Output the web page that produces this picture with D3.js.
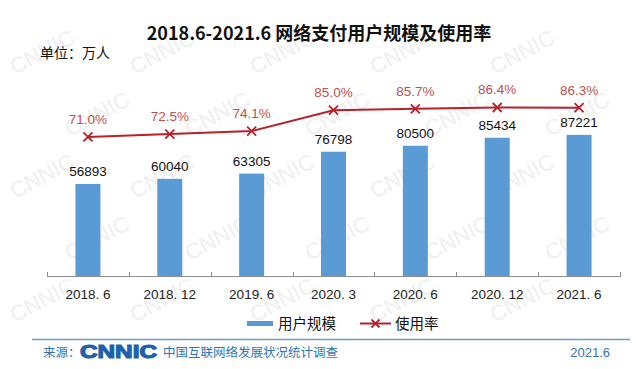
<!DOCTYPE html>
<html>
<head>
<meta charset="utf-8">
<script src="https://cdn.jsdelivr.net/npm/d3@7"></script>
<style>
  html, body { margin: 0; padding: 0; background: #fff; }
  svg { display: block; font-family: "Liberation Sans", Arial, "Noto Sans CJK SC", sans-serif; }
</style>
</head>
<body>
<div id="chart"></div>
<script>
// data
const categories = ["2018. 6", "2018. 12", "2019. 6", "2020. 3", "2020. 6", "2020. 12", "2021. 6"];
const users = [56893, 60040, 63305, 76798, 80500, 85434, 87221];
const rates = [71.0, 72.5, 74.1, 85.0, 85.7, 86.4, 86.3];

// dimensions
const WIDTH = 640;
const HEIGHT = 369;
const LEFT = 47;
const RIGHT = 620;
const BASE = 276;
const BAR_W = 25;
const CJK = '"Noto Sans CJK SC", "Liberation Sans", sans-serif';
const BLUE = "#5b9bd5";
const RED = "#b8202a";

const $svg = d3.select("#chart").append("svg")
  .attr("width", WIDTH)
  .attr("height", HEIGHT);

// faint watermark, kept inside the frame
const $wm = $svg.append("g").attr("class", "g-watermark");
d3.range(0, 5).forEach(r => {
  d3.range(0, 5).forEach(c => {
    const px = 15 + c * 120 + (r % 2) * 55;
    const py = 75 + r * 62;
    if (px > 560) return;
    $wm.append("text")
      .attr("transform", `translate(${px}, ${py}) rotate(-28)`)
      .attr("font-size", 22)
      .attr("font-family", "Liberation Sans, Arial, sans-serif")
      .attr("fill", "#efefef")
      .text("CNNIC");
  });
});

// scales
const x = d3.scaleBand().domain(categories).range([LEFT, RIGHT]);
const y = d3.scaleLinear().domain([0, 100000]).range([BASE, BASE - 100000 / 618]);
const yRate = d3.scaleLinear().domain([70, 90]).range([138.9, 100.6]);
const cx = d => x(d) + x.bandwidth() / 2;

// title
$svg.append("text")
  .attr("x", 319).attr("y", 40)
  .attr("text-anchor", "middle")
  .attr("font-family", CJK)
  .attr("font-weight", "bold")
  .attr("font-size", 18)
  .attr("fill", "#111")
  .text("2018.6-2021.6 网络支付用户规模及使用率");

$svg.append("text")
  .attr("x", 40).attr("y", 58)
  .attr("font-family", CJK)
  .attr("font-size", 14)
  .attr("fill", "#111")
  .text("单位：万人");

// bars
const $vis = $svg.append("g").attr("class", "g-vis");
$vis.selectAll("rect.bar")
  .data(users)
  .join("rect")
  .attr("class", "bar")
  .attr("x", (d, i) => cx(categories[i]) - BAR_W / 2)
  .attr("y", d => y(d))
  .attr("width", BAR_W)
  .attr("height", d => y(0) - y(d))
  .attr("fill", BLUE);

$vis.selectAll("text.val")
  .data(users)
  .join("text")
  .attr("class", "val")
  .attr("x", (d, i) => cx(categories[i]))
  .attr("y", d => y(d) - 8)
  .attr("text-anchor", "middle")
  .attr("font-size", 13.5)
  .attr("fill", "#111")
  .text(d => d);

// axis
const $axis = $svg.append("g").attr("class", "g-axis");
$axis.append("line")
  .attr("x1", LEFT).attr("x2", RIGHT)
  .attr("y1", BASE + 0.5).attr("y2", BASE + 0.5)
  .attr("stroke", "#8c8c8c");
$axis.selectAll("line.tick")
  .data(categories.map(d => x(d)).concat([RIGHT]))
  .join("line")
  .attr("class", "tick")
  .attr("x1", d => Math.round(d) + 0.5).attr("x2", d => Math.round(d) + 0.5)
  .attr("y1", BASE - 4).attr("y2", BASE + 1)
  .attr("stroke", "#8c8c8c");
$axis.selectAll("text.cat")
  .data(categories)
  .join("text")
  .attr("class", "cat")
  .attr("x", d => cx(d))
  .attr("y", BASE + 23)
  .attr("text-anchor", "middle")
  .attr("font-size", 13.5)
  .attr("fill", "#222")
  .text(d => d);

// rate line
const line = d3.line()
  .x((d, i) => cx(categories[i]))
  .y(d => yRate(d));

$vis.append("path")
  .datum(rates)
  .attr("d", line)
  .attr("fill", "none")
  .attr("stroke", RED)
  .attr("stroke-width", 2);

const cross = (g, s) => {
  g.append("path")
    .attr("d", `M${-s},${-s}L${s},${s}M${-s},${s}L${s},${-s}`)
    .attr("stroke", RED)
    .attr("stroke-width", 1.8)
    .attr("fill", "none");
};

$vis.selectAll("g.pt")
  .data(rates)
  .join("g")
  .attr("class", "pt")
  .attr("transform", (d, i) => `translate(${cx(categories[i])}, ${yRate(d)})`)
  .each(function () { cross(d3.select(this), 4.5); });

$vis.selectAll("text.rate")
  .data(rates)
  .join("text")
  .attr("class", "rate")
  .attr("x", (d, i) => cx(categories[i]))
  .attr("y", d => yRate(d) - 13)
  .attr("text-anchor", "middle")
  .attr("font-size", 13.5)
  .attr("fill", "#c0504d")
  .text(d => `${d.toFixed(1)}%`);

// legend
const $legend = $svg.append("g").attr("class", "g-legend");
$legend.append("rect")
  .attr("x", 247).attr("y", 321)
  .attr("width", 26).attr("height", 5)
  .attr("fill", BLUE);
$legend.append("text")
  .attr("x", 278).attr("y", 329)
  .attr("font-family", CJK)
  .attr("font-size", 14.5)
  .attr("fill", "#111")
  .text("用户规模");
$legend.append("line")
  .attr("x1", 360).attr("x2", 391)
  .attr("y1", 323.5).attr("y2", 323.5)
  .attr("stroke", RED)
  .attr("stroke-width", 2);
cross($legend.append("g").attr("transform", "translate(375.5, 323.5)"), 4);
$legend.append("text")
  .attr("x", 395).attr("y", 329)
  .attr("font-family", CJK)
  .attr("font-size", 14.5)
  .attr("fill", "#111")
  .text("使用率");

// footer
const $foot = $svg.append("g").attr("class", "g-footer");
$foot.append("line")
  .attr("x1", 32).attr("x2", 630)
  .attr("y1", 339.5).attr("y2", 339.5)
  .attr("stroke", "#6a9cc4")
  .attr("stroke-width", 1.5);
$foot.append("text")
  .attr("x", 43).attr("y", 357)
  .attr("font-family", CJK)
  .attr("font-size", 12.5)
  .attr("fill", "#2f75b5")
  .text("来源：");
$foot.append("text")
  .attr("x", 80).attr("y", 358)
  .attr("font-family", "Liberation Sans, Arial, sans-serif")
  .attr("font-weight", "bold")
  .attr("font-size", 19)
  .attr("textLength", 77)
  .attr("lengthAdjust", "spacingAndGlyphs")
  .attr("fill", "#1d62ad")
  .attr("stroke", "#1d62ad")
  .attr("stroke-width", 1.2)
  .text("CNNIC");
$foot.append("text")
  .attr("x", 163).attr("y", 357)
  .attr("font-family", CJK)
  .attr("font-size", 12.5)
  .attr("fill", "#2f75b5")
  .text("中国互联网络发展状况统计调查");
$foot.append("text")
  .attr("x", 610).attr("y", 357)
  .attr("text-anchor", "end")
  .attr("font-size", 13)
  .attr("fill", "#2f75b5")
  .text("2021.6");
</script>
</body>
</html>
